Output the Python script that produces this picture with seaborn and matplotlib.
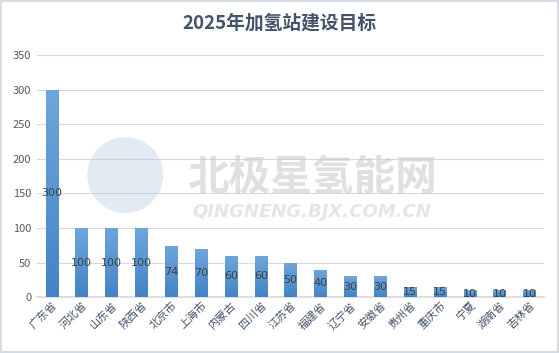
import numpy as np
import pandas as pd
import seaborn as sns
import matplotlib.pyplot as plt
from matplotlib.patches import Rectangle, Ellipse

# chart data
provinces = ['广东省', '河北省', '山东省', '陕西省', '北京市', '上海市', '内蒙古', '四川省', '江苏省',
             '福建省', '辽宁省', '安徽省', '贵州省', '重庆市', '宁夏', '湖南省', '吉林省']
targets = [300, 100, 100, 100, 74, 70, 60, 60, 50, 40, 30, 30, 15, 15, 10, 10, 10]
y_ticks = [0, 50, 100, 150, 200, 250, 300, 350]

df = pd.DataFrame({'province': provinces, 'target': targets})

sns.set_theme(style='white')
plt.rcParams['font.family'] = ['Noto Sans CJK SC', 'DejaVu Sans']

fig = plt.figure(figsize=(5.59, 3.53), dpi=100)
ax = fig.add_axes([0.066, 0.158, 0.908, 0.686])

sns.barplot(data=df, x='province', y='target', color='#5b9bd5', width=0.42,
            saturation=1, ax=ax, zorder=3)

# vertical gradient inside each bar
grad = np.linspace(0, 1, 256).reshape(-1, 1)
cmap = plt.matplotlib.colors.LinearSegmentedColormap.from_list('g', ['#4384c6', '#6fa6dc'])
for p in ax.patches:
    x0, y0, w, h = p.get_x(), p.get_y(), p.get_width(), p.get_height()
    im = ax.imshow(grad, extent=[x0, x0 + w, y0, y0 + h], origin='lower', aspect='auto',
                   cmap=cmap, zorder=3.5)
    im.set_clip_path(p)
    p.set_edgecolor('none')

# labels centred in the bars
for i, v in enumerate(targets):
    ax.text(i, v / 2, str(v), ha='center', va='center', fontsize=8,
            color='#404040', zorder=5, family=['DejaVu Sans'])

ax.set_xlim(-0.5, len(provinces) - 0.5)
ax.set_ylim(0, 350)
ax.set_yticks(y_ticks)
ax.yaxis.grid(True, color='#d9d9d9', linewidth=0.8, zorder=0)
ax.set_axisbelow(True)
for s in ['top', 'right', 'left']:
    ax.spines[s].set_visible(False)
ax.spines['bottom'].set_color('#d9d9d9')
ax.tick_params(axis='y', labelsize=8, labelcolor='#595959', length=0, pad=4)
ax.tick_params(axis='x', labelsize=8, labelcolor='#44546a', length=0, pad=2)
plt.setp(ax.get_xticklabels(), rotation=45, ha='right', rotation_mode='anchor')
ax.set_xlabel('')
ax.set_ylabel('')

fig.text(0.5, 0.935, '2025年加氢站建设目标', ha='center', va='center', fontsize=13.5,
         fontweight='bold', color='#44546a')

# watermark
fig.text(0.558, 0.496, '北极星氢能网', ha='center', va='center', fontsize=30,
         fontweight='bold', style='italic', color='#c8c8c8', alpha=0.55, zorder=10)
fig.text(0.558, 0.40, 'QINGNENG.BJX.COM.CN', ha='center', va='center', fontsize=13,
         fontweight='bold', style='italic', color='#d0d0d0', alpha=0.55, zorder=10,
         family=['DejaVu Sans'])
fig.patches.append(Ellipse((0.224, 0.504), 0.136, 0.215, transform=fig.transFigure,
                           facecolor='#b8cce4', alpha=0.4, edgecolor='none', zorder=10))

# outer border
fig.patches.append(Rectangle((0.002, 0.003), 0.996, 0.994, transform=fig.transFigure,
                             fill=False, edgecolor='#d6dce4', linewidth=1.5))

fig.savefig('out.png', dpi=100)
